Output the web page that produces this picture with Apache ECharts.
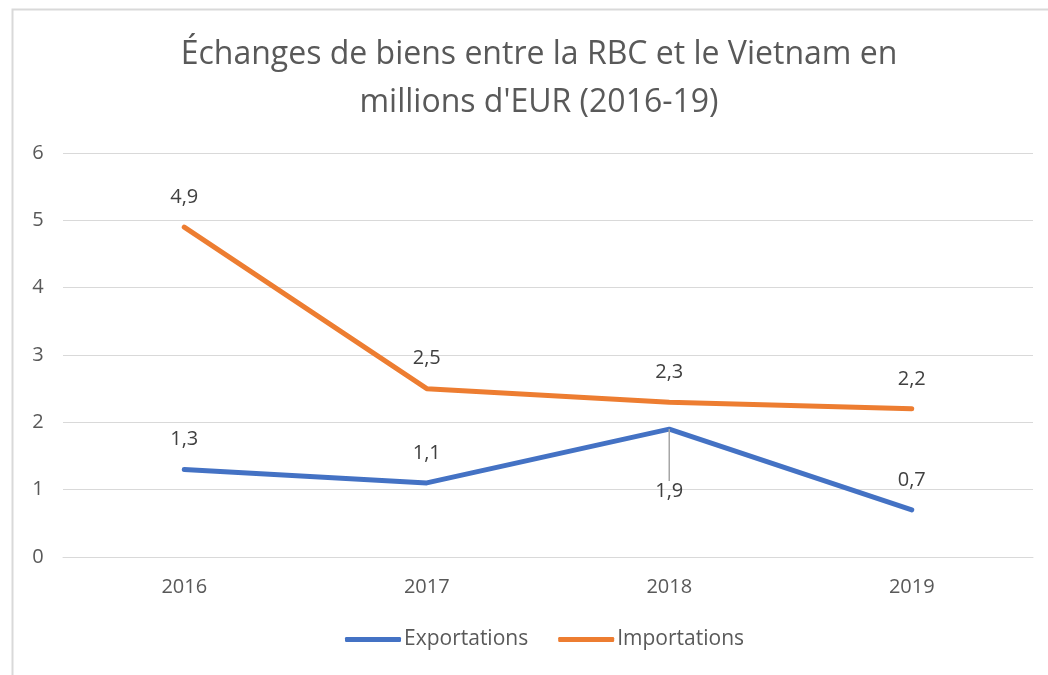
<!DOCTYPE html>
<html>
<head>
<meta charset="utf-8">
<script src="https://cdn.jsdelivr.net/npm/echarts@6/dist/echarts.min.js"></script>
<style>
  html, body { margin: 0; padding: 0; background: #fff; }
  #chart { width: 1048px; height: 675px; }
</style>
</head>
<body>
<div id="chart"></div>
<script>
const years = ['2016', '2017', '2018', '2019']
const exportations = [1.3, 1.1, 1.9, 0.7]
const importations = [4.9, 2.5, 2.3, 2.2]
const yTicks = [0, 1, 2, 3, 4, 5, 6]

const font = '"Open Sans", "Noto Sans", sans-serif'
var myChart = echarts.init(document.getElementById('chart'))

// étiquette avec virgule décimale
function fr (v) {
  return String(v).replace('.', ',')
}

let label = {
  show: true,
  position: 'top',
  distance: 20,
  fontFamily: font,
  fontSize: 20,
  color: '#404040',
  formatter: p => fr(p.value)
}

// seul le point 2018 des exportations a un trait de rappel
let exportData = exportations.map(function (v, i) {
  if (i === 2) {
    return { value: v, labelLine: { show: true, lineStyle: { color: '#a6a6a6', width: 1.5 } } }
  }
  return v
})

let option = {
  color: ['#4472C4', '#ED7D31'],
  textStyle: { fontFamily: font },
  graphic: [
    {
      type: 'rect',
      left: 10,
      top: 7,
      shape: { width: 1100, height: 700 },
      style: { fill: 'none', stroke: '#d9d9d9', lineWidth: 2 },
      silent: true
    }
  ],
  title: {
    text: "Échanges de biens entre la RBC et le Vietnam en\nmillions d'EUR (2016-19)",
    left: 534,
    textAlign: 'center',
    top: 26,
    textStyle: {
      fontFamily: font,
      fontSize: 32,
      fontWeight: 'normal',
      color: '#595959',
      lineHeight: 48
    }
  },
  legend: {
    bottom: 20,
    left: 340,
    itemWidth: 56,
    itemHeight: 5,
    itemGap: 30,
    icon: 'roundRect',
    textStyle: { fontFamily: font, fontSize: 21, color: '#595959', padding: [0, 0, 0, -2] },
    data: ['Exportations', 'Importations']
  },
  grid: {
    left: 63,
    right: 15,
    top: 153,
    bottom: 118
  },
  xAxis: {
    type: 'category',
    data: years,
    boundaryGap: true,
    axisLine: { lineStyle: { color: '#d9d9d9', width: 1 } },
    axisTick: { show: false },
    axisLabel: { fontFamily: font, fontSize: 20, color: '#595959', margin: 20 }
  },
  yAxis: {
    type: 'value',
    min: yTicks[0],
    max: yTicks[yTicks.length - 1],
    interval: 1,
    axisLine: { show: false },
    axisTick: { show: false },
    splitLine: { lineStyle: { color: '#d9d9d9', width: 1 } },
    axisLabel: { fontFamily: font, fontSize: 20, color: '#595959', margin: 25, align: 'center' }
  },
  series: [
    {
      name: 'Exportations',
      type: 'line',
      data: exportData,
      symbol: 'circle',
      symbolSize: 0.1,
      showSymbol: true,
      lineStyle: { width: 5, cap: 'round' },
      label: label,
      labelLayout: function (params) {
        // 1,9 est placé sous le point
        if (params.dataIndex === 2) {
          return { dy: 92 }
        }
        return {}
      }
    },
    {
      name: 'Importations',
      type: 'line',
      data: importations,
      symbol: 'circle',
      symbolSize: 0.1,
      showSymbol: true,
      lineStyle: { width: 5, cap: 'round' },
      label: label
    }
  ]
}
myChart.setOption(option)
window.addEventListener('resize', function () {
  myChart.resize()
})
</script>
</body>
</html>
